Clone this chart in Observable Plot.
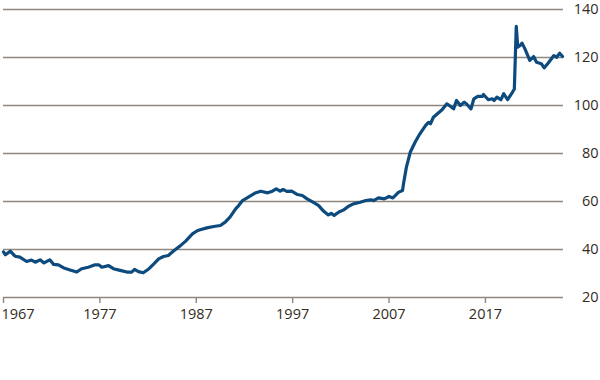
<!DOCTYPE html>
<html>
<head>
<meta charset="utf-8">
<script src="https://cdn.jsdelivr.net/npm/d3@7"></script>
<script src="https://cdn.jsdelivr.net/npm/@observablehq/plot@0.6"></script>
<style>
  html, body { margin: 0; padding: 0; background: #ffffff; }
</style>
</head>
<body>
<div id="chart"></div>
<script>
const years = [
  1967.0, 1967.2, 1967.7, 1968.2, 1968.7, 1969.4, 1969.9, 1970.3, 1970.8, 1971.2,
  1971.8, 1972.2, 1972.7, 1973.2, 1973.9, 1974.6, 1975.1, 1975.8, 1976.5, 1976.9,
  1977.2, 1977.9, 1978.4, 1979.1, 1979.8, 1980.3, 1980.6, 1981.0, 1981.5, 1982.1,
  1982.6, 1983.1, 1983.6, 1984.1, 1984.7, 1985.3, 1985.9, 1986.6, 1987.1, 1987.4,
  1988.1, 1988.8, 1989.5, 1990.0, 1990.5, 1991.1, 1991.4, 1991.8, 1992.4, 1993.1,
  1993.7, 1994.4, 1994.9, 1995.3, 1995.7, 1996.0, 1996.4, 1996.9, 1997.5, 1998.0,
  1998.5, 1999.2, 1999.7, 2000.2, 2000.7, 2001.0, 2001.3, 2001.8, 2002.3, 2002.8,
  2003.3, 2004.0, 2004.6, 2005.1, 2005.4, 2005.9, 2006.5, 2007.0, 2007.4, 2008.0,
  2008.4, 2008.5, 2008.8, 2009.2, 2009.7, 2010.2, 2010.8, 2011.1, 2011.3, 2011.6,
  2012.2, 2012.5, 2013.0, 2013.4, 2013.7, 2014.0, 2014.4, 2014.8, 2015.1, 2015.5,
  2015.8, 2016.2, 2016.7, 2016.8, 2017.3, 2017.7, 2017.9, 2018.2, 2018.6, 2018.9,
  2019.3, 2019.8, 2020.0, 2020.2, 2020.35, 2020.6, 2020.8, 2021.1, 2021.6, 2022.0,
  2022.3, 2022.8, 2023.1, 2023.5, 2024.1, 2024.4, 2024.7, 2025.0
];
const values = [
  39.0, 37.8, 39.3, 37.2, 36.8, 35.0, 35.6, 34.7, 35.7, 34.4,
  35.7, 33.8, 33.6, 32.4, 31.5, 30.6, 32.0, 32.6, 33.6, 33.6,
  32.6, 33.3, 32.0, 31.3, 30.6, 30.6, 31.7, 30.8, 30.3, 32.0,
  34.0, 36.1, 37.1, 37.5, 39.6, 41.4, 43.5, 46.5, 47.8, 48.2,
  49.0, 49.6, 50.0, 51.4, 53.5, 57.0, 58.3, 60.4, 61.8, 63.5,
  64.3, 63.6, 64.3, 65.3, 64.3, 65.0, 64.2, 64.3, 62.9, 62.5,
  61.1, 59.5, 58.3, 56.0, 54.4, 55.1, 54.2, 55.6, 56.5, 58.0,
  59.0, 59.7, 60.4, 60.7, 60.4, 61.5, 61.1, 62.1, 61.5, 63.9,
  64.6, 67.4, 74.3, 80.5, 84.7, 88.2, 91.7, 93.0, 92.4, 95.1,
  97.2, 98.2, 100.7, 99.6, 98.6, 102.1, 100.0, 101.4, 100.4, 98.6,
  102.8, 103.8, 103.8, 104.6, 102.4, 102.8, 102.1, 103.5, 102.4, 104.9,
  102.4, 105.5, 106.9, 133.0, 124.3, 125.0, 126.0, 123.6, 118.8, 120.4,
  118.0, 117.4, 115.7, 117.6, 120.8, 120.1, 121.8, 120.4
];
const xTicks = [1967, 1977, 1987, 1997, 2007, 2017];
const yTicks = [20, 40, 60, 80, 100, 120, 140];

const data = years.map((y, i) => ({year: y, value: values[i]}));
const textColor = "#342c22";
const gridColor = "#8e877d";

const chart = Plot.plot({
  width: 600,
  height: 380,
  marginTop: 9,
  marginBottom: 83,
  marginLeft: 3,
  marginRight: 37,
  style: {fontFamily: "'Open Sans', sans-serif", fontSize: "14.5px", color: textColor, background: "#ffffff"},
  x: {domain: [1967, 2025.1]},
  y: {domain: [20, 140]},
  marks: [
    Plot.ruleY(yTicks, {stroke: gridColor, strokeWidth: 1.4}),
    Plot.axisX({ticks: xTicks, tickFormat: d => d === xTicks[0] ? "" : String(d), tickSize: 6, tickPadding: 5, stroke: gridColor, strokeWidth: 1.4, fill: textColor, label: null}),
    Plot.axisX({ticks: [xTicks[0]], tickFormat: d => String(d), tickSize: 0, tickPadding: 11, textAnchor: "start", dx: -2, fill: textColor, label: null}),
    Plot.axisY({anchor: "right", ticks: yTicks, tickSize: 0, tickPadding: 0, textAnchor: "end", dx: 35, fill: textColor, label: null}),
    Plot.line(data, {x: "year", y: "value", stroke: "#0d4a7e", strokeWidth: 3.2, strokeLinejoin: "round"})
  ]
});
document.getElementById("chart").appendChild(chart);
</script>
</body>
</html>
